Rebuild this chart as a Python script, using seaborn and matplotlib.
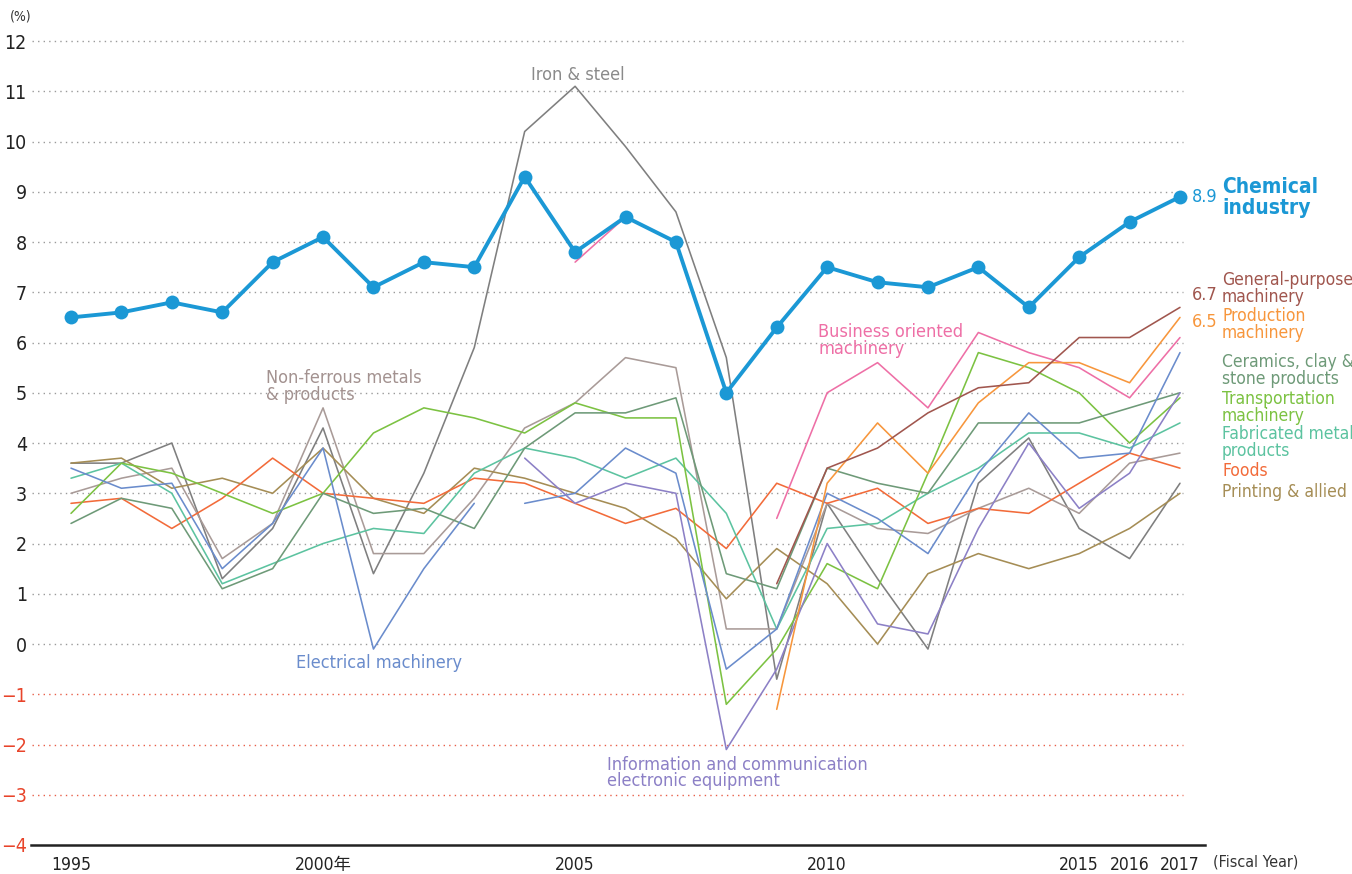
import numpy as np
import pandas as pd
import seaborn as sns
import matplotlib.pyplot as plt
from matplotlib import font_manager

years = list(range(1995, 2018))

# --- data (%) ---
chemical = [6.5, 6.6, 6.8, 6.6, 7.6, 8.1, 7.1, 7.6, 7.5, 9.3, 7.8, 8.5,
            8.0, 5.0, 6.3, 7.5, 7.2, 7.1, 7.5, 6.7, 7.7, 8.4, 8.9]
iron_steel = [3.6, 3.6, 4.0, 1.3, 2.3, 4.3, 1.4, 3.4, 5.9, 10.2, 11.1, 9.9,
              8.6, 5.7, -0.7, 2.8, 1.3, -0.1, 3.2, 4.1, 2.3, 1.7, 3.2]
non_ferrous = [3.0, 3.3, 3.5, 1.7, 2.4, 4.7, 1.8, 1.8, 2.9, 4.3, 4.8, 5.7,
               5.5, 0.3, 0.3, 2.8, 2.3, 2.2, 2.7, 3.1, 2.6, 3.6, 3.8]
# electrical machinery: old basis 1995-2003, new basis 2004-2017
electrical_old = [3.5, 3.1, 3.2, 1.5, 2.4, 3.9, -0.1, 1.5, 2.8]
electrical_new = [2.8, 3.0, 3.9, 3.4, -0.5, 0.3, 3.0, 2.5, 1.8, 3.4, 4.6,
                  3.7, 3.8, 5.8]
info_comm = [3.7, 2.8, 3.2, 3.0, -2.1, -0.5, 2.0, 0.4, 0.2, 2.3, 4.0, 2.7,
             3.4, 5.0]  # 2004-2017
general_purpose = [1.2, 3.5, 3.9, 4.6, 5.1, 5.2, 6.1, 6.1, 6.7]  # 2009-2017
production = [-1.3, 3.2, 4.4, 3.4, 4.8, 5.6, 5.6, 5.2, 6.5]    # 2009-2017
business = [7.6, 8.5, None, None, 2.5, 5.0, 5.6, 4.7, 6.2, 5.8, 5.5, 4.9,
            6.1]  # 2005-2017
ceramics = [2.4, 2.9, 2.7, 1.1, 1.5, 3.0, 2.6, 2.7, 2.3, 3.9, 4.6, 4.6,
            4.9, 1.4, 1.1, 3.5, 3.2, 3.0, 4.4, 4.4, 4.4, 4.7, 5.0]
transport = [2.6, 3.6, 3.4, 3.0, 2.6, 3.0, 4.2, 4.7, 4.5, 4.2, 4.8, 4.5,
             4.5, -1.2, -0.1, 1.6, 1.1, 3.4, 5.8, 5.5, 5.0, 4.0, 4.9]
fabricated = [3.3, 3.6, 3.0, 1.2, 1.6, 2.0, 2.3, 2.2, 3.4, 3.9, 3.7, 3.3,
              3.7, 2.6, 0.3, 2.3, 2.4, 3.0, 3.5, 4.2, 4.2, 3.9, 4.4]
foods = [2.8, 2.9, 2.3, 2.9, 3.7, 3.0, 2.9, 2.8, 3.3, 3.2, 2.8, 2.4, 2.7,
         1.9, 3.2, 2.8, 3.1, 2.4, 2.7, 2.6, 3.2, 3.8, 3.5]
printing = [3.6, 3.7, 3.1, 3.3, 3.0, 3.9, 2.9, 2.6, 3.5, 3.3, 3.0, 2.7, 2.1,
            0.9, 1.9, 1.2, 0.0, 1.4, 1.8, 1.5, 1.8, 2.3, 3.0]

# (name, first year, values)
series = [
    ("Iron & steel", 1995, iron_steel),
    ("Non-ferrous", 1995, non_ferrous),
    ("Printing", 1995, printing),
    ("Foods", 1995, foods),
    ("Fabricated", 1995, fabricated),
    ("Transport", 1995, transport),
    ("Ceramics", 1995, ceramics),
    ("Electrical", 1995, electrical_old),
    ("Electrical", 2004, electrical_new),
    ("Info", 2004, info_comm),
    ("Business", 2005, business),
    ("Production", 2009, production),
    ("General", 2009, general_purpose),
]

colors = {
    "Iron & steel": "#7f7f7f",
    "Non-ferrous": "#a99b98",
    "Printing": "#a58d55",
    "Foods": "#f26b3a",
    "Fabricated": "#5cc3a0",
    "Transport": "#7cc242",
    "Ceramics": "#6e9a78",
    "Electrical": "#6a8ccc",
    "Info": "#8c80c6",
    "Business": "#ee6fa6",
    "Production": "#f7963c",
    "General": "#a0564e",
}
chem_color = "#1b98d5"

rows = []
seg = 0
for name, start, vals in series:
    seg += 1
    for i, v in enumerate(vals):
        if v is None:
            seg += 1
            continue
        rows.append({"year": start + i, "value": v, "series": name, "seg": seg})
df = pd.DataFrame(rows)
chem_df = pd.DataFrame({"year": years, "value": chemical})

# look for a narrow sans font, the original uses a condensed face
base, stretch = "Roboto", "normal"
for f in font_manager.fontManager.ttflist:
    nm = f.name + " " + f.fname
    if ("Mono" in nm or "Serif" in nm):
        continue
    if "Narrow" in nm or "Condensed" in nm or f.stretch in ("condensed", "semi-condensed"):
        base = f.name
        stretch = f.stretch if f.stretch != "normal" else "normal"
        break
narrow = base != "Roboto"
fs = 13 if narrow else 11.5
fr = 12.5 if narrow else 10.5   # right-hand labels

sns.set_theme(style="white")
plt.rcParams['font.family'] = [base, 'Noto Sans CJK JP']
plt.rcParams['font.stretch'] = stretch

fig = plt.figure(figsize=(13.52, 8.74), dpi=100)
W, H = 1352, 874
ax = fig.add_axes([31 / W, (874 - 845) / H, (1205 - 31) / W, (845 - 26) / H])

sns.lineplot(data=df, x="year", y="value", hue="series", units="seg",
             estimator=None, palette=colors, legend=False, linewidth=1.15,
             ax=ax, zorder=3)
sns.lineplot(data=chem_df, x="year", y="value", color=chem_color,
             linewidth=2.8, marker="o", markersize=10, markeredgewidth=0,
             ax=ax, zorder=5)

px_year = (1180 - 71) / 22
x_left = 1995 - (71 - 31) / px_year
x_right = 2017 + (1205 - 1180) / px_year
ax.set_xlim(x_left, x_right)
ax.set_ylim(-4, 12.3)

# dotted gridlines, red below zero
for yv in range(-3, 13):
    c = "#e8604a" if yv < 0 else "#9a9a9a"
    ax.hlines(yv, x_left + 0.02, 2017.06, colors=c, linestyles=(0, (1, 3)),
              linewidth=1.0, zorder=1)

ax.set_yticks(range(-4, 13))
ax.set_yticklabels([str(v) if v >= 0 else "\u2212" + str(-v) for v in range(-4, 13)])
for lab, v in zip(ax.get_yticklabels(), range(-4, 13)):
    lab.set_color("#e8442a" if v < 0 else "#222222")
ax.tick_params(axis="y", length=0, pad=3, labelsize=fs + 1)

major = [1995, 2000, 2005, 2010, 2015, 2016, 2017]
ax.set_xticks(major)
ax.set_xticklabels(["1995", "2000年", "2005", "2010", "2015", "2016", "2017"])
ax.set_xticks([y for y in years if y not in major], minor=True)
ax.tick_params(axis="x", which="major", direction="in", length=8, width=1.6,
               color="#222222", labelsize=fs - 0.5, pad=8, labelcolor="#222222")
ax.tick_params(axis="x", which="minor", direction="in", length=8, width=0.8,
               color="#333333")
ax.set_xlabel("")
ax.set_ylabel("")
for s in ["left", "right", "top"]:
    ax.spines[s].set_visible(False)
ax.spines["bottom"].set_color("#222222")
ax.spines["bottom"].set_linewidth(1.8)


def ftext(x, y, s, color, size=fs, weight="normal", ha="left", step=17):
    for i, line in enumerate(s.split("\n")):
        fig.text(x / W, 1 - (y + i * step) / H, line, color=color,
                 fontsize=size, fontweight=weight, ha=ha, va="center")


ftext(10, 17, "(%)", "#333333", size=fs - 3)
ftext(1213, 862, "(Fiscal Year)", "#333333", size=fs - 1.5)

ftext(578, 75, "Iron & steel", "#8a8a8a", ha="center")
ftext(266, 378, "Non-ferrous metals\n& products", "#a39290")
ftext(296, 663, "Electrical machinery", "#6a8ccc")
ftext(607, 765, "Information and communication\nelectronic equipment", "#8c80c6",
      step=16)
ftext(818, 332, "Business oriented\nmachinery", "#ee6fa6")

ftext(1222, 187, "Chemical\nindustry", chem_color, size=fr + 2.5, weight="bold",
      step=21)
ftext(1192, 197, f"{chemical[-1]}", chem_color, size=fr + 0.5)
ftext(1222, 280, "General-purpose\nmachinery", "#a0564e", size=fr)
ftext(1192, 295, f"{general_purpose[-1]}", "#a0564e", size=fr + 0.5)
ftext(1222, 316, "Production\nmachinery", "#f7963c", size=fr)
ftext(1192, 322, f"{production[-1]}", "#f7963c", size=fr + 0.5)
ftext(1222, 362, "Ceramics, clay &\nstone products", "#6e9a78", size=fr)
ftext(1222, 399, "Transportation\nmachinery", "#7cc242", size=fr)
ftext(1222, 434, "Fabricated metal\nproducts", "#5cc3a0", size=fr)
ftext(1222, 471, "Foods", "#f26b3a", size=fr)
ftext(1222, 492, "Printing & allied", "#a58d55", size=fr)

fig.savefig("out.png", dpi=100)
